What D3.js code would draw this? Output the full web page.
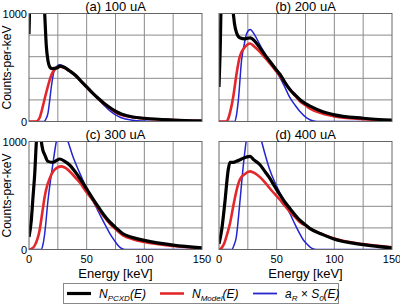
<!DOCTYPE html>
<html>
<head>
<meta charset="utf-8">
<script src="https://cdn.jsdelivr.net/npm/d3@7"></script>
<style>
  body { margin: 0; background: #fff; }
  svg { display: block; font-family: "Liberation Sans", Arial, sans-serif; }
</style>
</head>
<body>
<svg id="chart" width="400" height="305"></svg>
<script>
"use strict";

// Panel titles and data: [energy keV, counts-per-keV]
const panelTitles = ["(a) 100 uA", "(b) 200 uA", "(c) 300 uA", "(d) 400 uA"];
const xTicks = [0, 50, 100, 150];
const yTicks = [0, 1000];

const blackA = [[0,810],[1.5,1300],[12,1300],[13.6,1000],[15,700],[16.5,560],[18,505],[20,490],[24,495],[27,512],[30,505],[35,470],[40,430],[45,375],[50,320],[55,265],[60,215],[65,170],[70,130],[75,95],[80,70],[90,42],[100,30],[125,14],[150,6]];
const redA = [[0,0],[6,0],[9,30],[12,140],[14.5,250],[16.5,330],[19.4,430],[22,478],[26.6,508],[31,495],[38,446],[44,385],[50,318],[55,262],[61,202],[65,165],[70,125],[75,85],[84,50],[100,28],[125,14],[150,5]];
const blueA = [[0,0],[13,0],[15,30],[16.5,80],[18,200],[19.4,324],[22,477],[24,510],[26.6,525],[29.5,515],[35,475],[40,430],[45,375],[50,320],[55,262],[60,205],[65,150],[70,100],[75,62],[80,35],[90,12],[100,4],[110,0],[150,0]];

const blackB = [[0,320],[1,650],[2,1100],[11,1100],[12.4,1000],[13.5,900],[15.3,820],[18,775],[22.5,765],[27,775],[31,745],[35.5,682],[40,615],[44,558],[48.5,495],[53,435],[57,365],[61.5,296],[66,245],[70,204],[75,165],[79,142],[90,90],[99,64],[125,30],[150,12]];
const redB = [[0,0],[6.5,0],[8,25],[9.5,80],[12.4,232],[15.3,447],[18,600],[22.5,690],[27,722],[31,690],[35.5,645],[40,590],[44,540],[48.5,480],[53,420],[57,360],[61.5,296],[66,240],[70,190],[75,150],[79,118],[90,72],[99,50],[125,22],[150,8]];
const blueB = [[0,0],[13.5,0],[15,50],[16.8,200],[19.6,570],[22,720],[24,815],[27,852],[31,800],[35.5,710],[40,625],[44,555],[48.5,480],[53,405],[57,320],[61.5,220],[66,150],[70,95],[76,34],[82,5],[88,0],[150,0]];

const blackC = [[0,115],[2,271],[3.5,489],[5,707],[6.4,1000],[7.5,1150],[9.5,1150],[10.7,1000],[12,920],[13.6,878],[16.5,816],[20.8,807],[24,825],[26.6,838],[31,816],[35,785],[40,720],[44,660],[50.6,551],[55,475],[61,380],[65,320],[70,255],[75,205],[81.5,146],[90,110],[100,84],[125,40],[150,15]];
const redC = [[0,0],[2,5],[5,37],[9.2,178],[11.5,340],[13.6,489],[16,600],[18,660],[22,738],[28,770],[32,754],[38,692],[44,620],[50.6,520],[55,460],[61,364],[65,305],[70,240],[75,190],[81.5,131],[90,95],[100,69],[125,33],[150,14]];
const blueC = [[0,0],[10.7,0],[12,40],[13.6,146],[16.5,458],[20.8,800],[23.7,1000],[27,1120],[31,1080],[33.8,1000],[38,863],[44,707],[50.6,551],[58,396],[63,290],[67,209],[70,150],[74,84],[78.6,22],[82,3],[85,0],[150,0]];

const blackD = [[0,53],[2.3,178],[5,427],[8,738],[9.5,807],[12.4,807],[15,816],[19.6,838],[24,857],[27,863],[30,832],[35.5,785],[40,720],[44,660],[48.5,580],[53,505],[57,440],[61.5,380],[66,320],[70,271],[75,228],[79,193],[90,138],[99,100],[125,45],[150,15]];
const redD = [[0,0],[1,2],[3,25],[5,69],[7,140],[9.5,240],[12,380],[14,489],[18,645],[22.5,700],[27,723],[31,707],[35.5,670],[40,620],[44,567],[48.5,512],[53,458],[57,405],[61.5,349],[66,300],[70,255],[75,222],[79,193],[90,140],[99,105],[125,50],[150,20]];
const blueD = [[0,0],[11,0],[13,40],[15,115],[18,427],[21,770],[23.5,1000],[27,1200],[33,1200],[37,1000],[40,880],[44,738],[48.5,620],[53,520],[57,430],[61.5,333],[66,230],[70,146],[73,90],[76,53],[79,22],[82,5],[86,0],[150,0]];

const panelSeries = [
  [blackA, redA, blueA],
  [blackB, redB, blueB],
  [blackC, redC, blueC],
  [blackD, redD, blueD],
];

const colBlack = "#000000",
  colRed = "#e3272a",
  colBlue = "#2424d0";

const seriesStyle = [
  { color: colBlack, width: 3.2 },
  { color: colRed, width: 2.6 },
  { color: colBlue, width: 1.5 },
];

const pw = 173,
  ph = 108;
const origins = [
  [29, 13.5],
  [219, 13.5],
  [29, 141.5],
  [219, 141.5],
];

const svg = d3.select("#chart");

const x = d3.scaleLinear().domain([0, 150]).range([0, pw]);
const y = d3.scaleLinear().domain([0, 1000]).range([ph, 0]);

const line = d3
  .line()
  .x((d) => x(d[0]))
  .y((d) => y(d[1]))
  .curve(d3.curveMonotoneX);

svg
  .append("defs")
  .append("clipPath")
  .attr("id", "plotClip")
  .append("rect")
  .attr("x", 0)
  .attr("y", 0)
  .attr("width", pw)
  .attr("height", ph);

origins.forEach((o, i) => {
  const g = svg.append("g").attr("transform", `translate(${o[0]},${o[1]})`);

  // grid
  g.append("g")
    .selectAll("line")
    .data(d3.range(25, 150, 25))
    .join("line")
    .attr("x1", (d) => x(d))
    .attr("x2", (d) => x(d))
    .attr("y1", 0)
    .attr("y2", ph)
    .attr("stroke", "#8a8a8a")
    .attr("stroke-width", 1);

  g.append("g")
    .selectAll("line")
    .data(d3.range(200, 1000, 200))
    .join("line")
    .attr("x1", 0)
    .attr("x2", pw)
    .attr("y1", (d) => y(d))
    .attr("y2", (d) => y(d))
    .attr("stroke", "#8a8a8a")
    .attr("stroke-width", 1);

  // curves (blue first, then red, then black on top)
  const lines = g.append("g").attr("clip-path", "url(#plotClip)");
  [2, 1, 0].forEach((k) => {
    lines
      .append("path")
      .datum(panelSeries[i][k])
      .attr("d", line)
      .attr("fill", "none")
      .attr("stroke", seriesStyle[k].color)
      .attr("stroke-width", seriesStyle[k].width)
      .attr("stroke-linejoin", "round");
  });

  // frame
  g.append("rect")
    .attr("width", pw)
    .attr("height", ph)
    .attr("fill", "none")
    .attr("stroke", "#666")
    .attr("stroke-width", 1);

  // title
  g.append("text")
    .attr("x", pw / 2)
    .attr("y", -3)
    .attr("text-anchor", "middle")
    .attr("font-size", 13)
    .text(panelTitles[i]);

  // y axis labels on left panels
  if (i % 2 === 0) {
    g.append("g")
      .selectAll("text")
      .data(yTicks)
      .join("text")
      .attr("x", -2)
      .attr("y", (d) => y(d) + 4)
      .attr("text-anchor", "end")
      .attr("font-size", 11)
      .text((d) => d);

    g.append("text")
      .attr("transform", `translate(-18,${ph / 2}) rotate(-90)`)
      .attr("text-anchor", "middle")
      .attr("font-size", 12)
      .text("Counts-per-keV");
  }

  // x axis labels on bottom panels
  if (i >= 2) {
    g.append("g")
      .selectAll("text")
      .data(xTicks)
      .join("text")
      .attr("x", (d) => x(d))
      .attr("y", ph + 13)
      .attr("text-anchor", "middle")
      .attr("font-size", 11)
      .text((d) => d);

    g.append("text")
      .attr("x", pw / 2)
      .attr("y", ph + 28)
      .attr("text-anchor", "middle")
      .attr("font-size", 13)
      .text("Energy [keV]");
  }
});

// legend
const legendItems = [
  { main: "N", sub: "PCXD", tail: "(E)", color: colBlack, width: 3.2, x: 67 },
  { main: "N", sub: "Model", tail: "(E)", color: colRed, width: 2.6, x: 160 },
  { main: "a", sub: "R", tail: " × S", sub2: "0", tail2: "(E)", color: colBlue, width: 1.8, x: 253 },
];

const lg = svg.append("g");
lg.append("rect")
  .attr("x", 63.5)
  .attr("y", 283.5)
  .attr("width", 275)
  .attr("height", 20)
  .attr("fill", "#fff")
  .attr("stroke", "#888");

legendItems.forEach((d) => {
  lg.append("line")
    .attr("x1", d.x)
    .attr("x2", d.x + 24)
    .attr("y1", 293.5)
    .attr("y2", 293.5)
    .attr("stroke", d.color)
    .attr("stroke-width", d.width);

  const t = lg
    .append("text")
    .attr("x", d.x + 32)
    .attr("y", 298)
    .attr("font-size", 12)
    .attr("font-style", "italic");
  t.append("tspan").text(d.main);
  t.append("tspan").attr("font-size", 8).attr("dy", 3).text(d.sub);
  t.append("tspan").attr("dy", -3).text(d.tail);
  if (d.sub2) {
    t.append("tspan").attr("font-size", 8).attr("dy", 3).text(d.sub2);
    t.append("tspan").attr("dy", -3).text(d.tail2);
  }
});
</script>
</body>
</html>
